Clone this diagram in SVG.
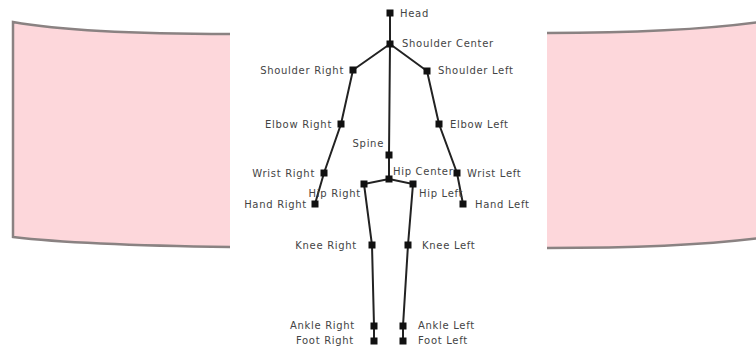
<svg xmlns="http://www.w3.org/2000/svg" width="756" height="350" viewBox="0 0 756 350">
<style>
.bone{stroke:#222;stroke-width:2;fill:none;stroke-linecap:round}
.j{fill:#111}
text{font-family:"DejaVu Sans",Verdana,sans-serif;font-size:10px;letter-spacing:0.7px;fill:#444}
.r{text-anchor:end}
</style>
<rect x="0" y="0" width="756" height="350" fill="#fff"/>
<path d="M13,22 Q80,34 230,34 L547,33 Q680,33 760,22 L760,238 Q680,248 547,248 L230,247 Q80,245 13,237 Z" fill="#fdd7db" stroke="#8a8282" stroke-width="2.5"/>
<rect x="230" y="0" width="317" height="350" fill="#fff"/>
<g id="connectors">
<polyline class="bone" points="390,13 390,44 389,155 389,179"/>
<polyline class="bone" points="390,44 353,70 341,124 324,173 315,204"/>
<polyline class="bone" points="390,44 427,71 439,124 457,173 463,204"/>
<polyline class="bone" points="389,179 364,184 372,245 374,326 374,341"/>
<polyline class="bone" points="389,179 413,184 408,245 403,326 403,341"/>
</g>
<g id="head"><rect class="j" x="386.5" y="9.5" width="7" height="7"/><text x="400" y="16.5">Head</text></g>
<g id="shoulder-center"><rect class="j" x="386.5" y="40.5" width="7" height="7"/><text x="402" y="47">Shoulder Center</text></g>
<g id="shoulder-right"><rect class="j" x="349.5" y="66.5" width="7" height="7"/><text class="r" x="344" y="74">Shoulder Right</text></g>
<g id="shoulder-left"><rect class="j" x="423.5" y="67.5" width="7" height="7"/><text x="438" y="74">Shoulder Left</text></g>
<g id="elbow-right"><rect class="j" x="337.5" y="120.5" width="7" height="7"/><text class="r" x="332" y="128">Elbow Right</text></g>
<g id="elbow-left"><rect class="j" x="435.5" y="120.5" width="7" height="7"/><text x="450" y="128">Elbow Left</text></g>
<g id="spine"><rect class="j" x="385.5" y="151.5" width="7" height="7"/><text class="r" x="384" y="147">Spine</text></g>
<g id="wrist-right"><rect class="j" x="320.5" y="169.5" width="7" height="7"/><text class="r" x="315" y="177">Wrist Right</text></g>
<g id="wrist-left"><rect class="j" x="453.5" y="169.5" width="7" height="7"/><text x="467" y="177">Wrist Left</text></g>
<g id="hip-center"><rect class="j" x="385.5" y="175.5" width="7" height="7"/><text x="393" y="175">Hip Center</text></g>
<g id="hip-right"><rect class="j" x="360.5" y="180.5" width="7" height="7"/><text class="r" x="361" y="197">Hip Right</text></g>
<g id="hip-left"><rect class="j" x="409.5" y="180.5" width="7" height="7"/><text x="419" y="197">Hip Left</text></g>
<g id="hand-right"><rect class="j" x="311.5" y="200.5" width="7" height="7"/><text class="r" x="307" y="208">Hand Right</text></g>
<g id="hand-left"><rect class="j" x="459.5" y="200.5" width="7" height="7"/><text x="475" y="208">Hand Left</text></g>
<g id="knee-right"><rect class="j" x="368.5" y="241.5" width="7" height="7"/><text class="r" x="357" y="249">Knee Right</text></g>
<g id="knee-left"><rect class="j" x="404.5" y="241.5" width="7" height="7"/><text x="422" y="249">Knee Left</text></g>
<g id="ankle-right"><rect class="j" x="370.5" y="322.5" width="7" height="7"/><text class="r" x="355" y="329">Ankle Right</text></g>
<g id="ankle-left"><rect class="j" x="399.5" y="322.5" width="7" height="7"/><text x="418" y="329">Ankle Left</text></g>
<g id="foot-right"><rect class="j" x="370.5" y="337.5" width="7" height="7"/><text class="r" x="354" y="344">Foot Right</text></g>
<g id="foot-left"><rect class="j" x="399.5" y="337.5" width="7" height="7"/><text x="418" y="344">Foot Left</text></g>
</svg>
